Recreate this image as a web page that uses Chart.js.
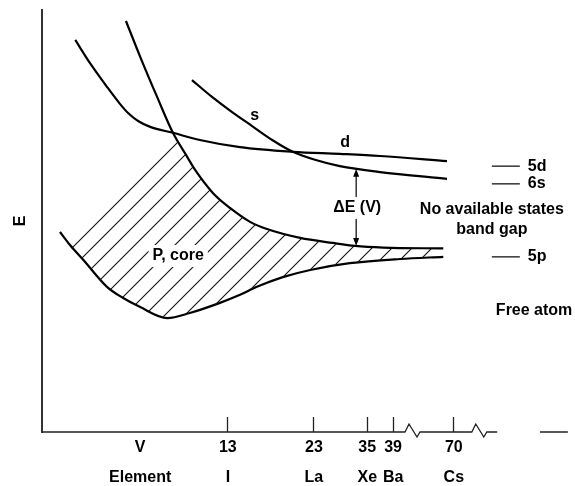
<!DOCTYPE html>
<html>
<head>
<meta charset="utf-8">
<script src="https://cdn.jsdelivr.net/npm/chart.js@4.4.0/dist/chart.umd.min.js"></script>
<style>
  html, body { margin: 0; padding: 0; background: #fff; }
  #chart { display: block; }
</style>
</head>
<body>
<canvas id="chart" width="575" height="486"></canvas>
<script>
// level energies, arbitrary units (x: position along the element axis, E: 0-100)
const dBandX = [6.3, 9.1, 12.3, 14.8, 16.3, 18.2, 20.5, 24.8, 29.9, 37.5, 47.5, 56.4, 64.0, 76.7];
const dBandE = [92.9, 87.4, 81.8, 77.7, 75.6, 73.7, 72.3, 70.9, 69.2, 67.5, 66.4, 65.9, 65.4, 64.2];
const sBandX = [28.4, 32.2, 36.0, 39.8, 43.6, 47.5, 51.7, 56.4, 64.0, 76.7];
const sBandE = [83.4, 79.4, 75.8, 72.5, 69.2, 66.4, 64.5, 63.0, 61.6, 60.0];
const coreTopX = [15.9, 18.6, 21.8, 24.8, 27.5, 29.0, 32.4, 35.6, 39.4, 42.6, 48.9, 55.1, 59.3, 64.6, 76.0];
const coreTopE = [97.4, 88.9, 79.4, 70.9, 65.2, 62.1, 56.6, 53.1, 49.8, 48.1, 46.0, 44.8, 44.1, 43.7, 43.5];
const coreBottomX = [3.4, 5.3, 7.8, 12.3, 15.3, 18.6, 23.7, 28.0, 33.7, 37.5, 40.7, 45.6, 50.8, 58.3, 67.8, 76.0];
const coreBottomE = [47.4, 44.3, 40.8, 34.4, 31.8, 29.6, 27.0, 28.2, 30.6, 32.5, 34.4, 36.7, 38.4, 40.0, 41.0, 41.5];
// left edge of the filled (occupied) region
const occupiedEdgeX = [4.7, 24.8];
const occupiedEdgeE = [46.0, 70.9];

// free atom levels
const atomLevels = ['5d', '6s', '5p'];
const atomLevelE = [63.0, 58.8, 41.5];
const atomMarkX = [85.2, 90.5];

// x axis
const tickX = [18.6, 35.2, 51.5, 61.6, 66.5, 78.0];
const tickZ = ['V', '13', '23', '35', '39', '70'];
const tickElement = ['Element', 'I', 'La', 'Xe', 'Ba', 'Cs'];
const axisBreaks = [68.75, 81.4];
const axisEnd = 86.2;
const axisTail = [94.3, 99.6];

// band gap arrow
const gapX = 59.5;
const gapE = [44.1, 62.4];

const notes = [
  { text: 's', x: 40.3, y: 74.9 },
  { text: 'd', x: 57.4, y: 68.5 },
  { text: 'P, core', x: 25.8, y: 41.7, box: true },
  { text: 'ΔE (V)', x: 59.7, y: 53.1, box: true },
  { text: 'No available states', x: 85.2, y: 52.8 },
  { text: 'band gap', x: 85.2, y: 47.9 },
  { text: 'Free atom', x: 93.2, y: 28.7 },
];

const FONT = '"Liberation Sans", Arial, sans-serif';

const zip = (xs, ys) => xs.map((x, i) => ({ x: x, y: ys[i] }));

function hatchPattern() {
  const c = document.createElement('canvas');
  c.width = 20; c.height = 20;
  const g = c.getContext('2d');
  g.strokeStyle = '#111';
  g.lineWidth = 1.1;
  g.beginPath();
  [-20, 0, 20].forEach(k => {
    g.moveTo(-4, 24 + k);
    g.lineTo(24, -4 + k);
  });
  g.stroke();
  return g.createPattern(c, 'repeat');
}

const occupiedTop = zip(occupiedEdgeX, occupiedEdgeE)
  .concat(zip(coreTopX, coreTopE).filter(p => p.x > occupiedEdgeX[1]));

const curve = (data) => ({
  data: data,
  showLine: true,
  borderColor: '#000',
  borderWidth: 2.2,
  pointRadius: 0,
  cubicInterpolationMode: 'monotone',
  fill: false,
});

const datasets = [
  {
    data: occupiedTop,
    showLine: true,
    borderWidth: 0,
    borderColor: 'rgba(0,0,0,0)',
    backgroundColor: hatchPattern(),
    pointRadius: 0,
    tension: 0,
    fill: 1,
  },
  curve(zip(coreBottomX, coreBottomE)),
  curve(zip(coreTopX, coreTopE)),
  curve(zip(dBandX, dBandE)),
  curve(zip(sBandX, sBandE)),
];
atomLevelE.forEach(e => {
  datasets.push({
    data: atomMarkX.map(x => ({ x: x, y: e })),
    showLine: true,
    borderColor: '#000',
    borderWidth: 1.2,
    pointRadius: 0,
    fill: false,
  });
});

const annotations = {
  id: 'annotations',
  afterDatasetsDraw(chart) {
    const ctx = chart.ctx;
    const xs = chart.scales.x, ys = chart.scales.y;
    const X = v => xs.getPixelForValue(v);
    const Y = v => ys.getPixelForValue(v);
    ctx.save();

    // x axis with breaks
    const y0 = Y(0);
    ctx.strokeStyle = '#222';
    ctx.lineWidth = 1.3;
    ctx.beginPath();
    ctx.moveTo(X(0), y0);
    axisBreaks.forEach(b => {
      const px = X(b);
      ctx.lineTo(px, y0);
      ctx.lineTo(px + 4, y0 - 8);
      ctx.lineTo(px + 12, y0 + 5);
      ctx.lineTo(px + 15, y0);
    });
    ctx.lineTo(X(axisEnd), y0);
    ctx.moveTo(X(axisTail[0]), y0);
    ctx.lineTo(X(axisTail[1]), y0);
    ctx.stroke();

    // band gap double arrow
    const ax = X(gapX), aLow = Y(gapE[0]), aHigh = Y(gapE[1]);
    ctx.strokeStyle = '#000';
    ctx.fillStyle = '#000';
    ctx.lineWidth = 1.2;
    ctx.beginPath();
    ctx.moveTo(ax, aHigh + 6);
    ctx.lineTo(ax, aLow - 6);
    ctx.stroke();
    ctx.beginPath();
    ctx.moveTo(ax, aHigh); ctx.lineTo(ax - 3, aHigh + 8); ctx.lineTo(ax + 3, aHigh + 8);
    ctx.closePath();
    ctx.moveTo(ax, aLow); ctx.lineTo(ax - 3, aLow - 8); ctx.lineTo(ax + 3, aLow - 8);
    ctx.closePath();
    ctx.fill();

    // text notes
    ctx.font = 'bold 16px ' + FONT;
    ctx.textBaseline = 'middle';
    ctx.textAlign = 'center';
    notes.forEach(n => {
      const px = X(n.x), py = Y(n.y);
      if (n.box) {
        const w = ctx.measureText(n.text).width + 8;
        ctx.fillStyle = '#fff';
        ctx.fillRect(px - w / 2, py - 11, w, 22);
      }
      ctx.fillStyle = '#000';
      ctx.fillText(n.text, px, py);
    });
    ctx.textAlign = 'left';
    atomLevels.forEach((name, i) => {
      ctx.fillText(name, X(atomMarkX[1]) + 8, Y(atomLevelE[i]));
    });
    ctx.restore();
  }
};

new Chart(document.getElementById('chart'), {
  type: 'scatter',
  data: { datasets: datasets },
  plugins: [annotations],
  options: {
    responsive: false,
    animation: false,
    devicePixelRatio: 1,
    layout: { padding: { left: 0, right: 5, top: 10, bottom: 0 } },
    plugins: {
      legend: { display: false },
      tooltip: { enabled: false },
    },
    scales: {
      x: {
        type: 'linear',
        min: 0,
        max: 100,
        border: { display: false },
        grid: {
          display: true,
          drawOnChartArea: false,
          drawTicks: true,
          tickLength: -15,
          tickWidth: 1.3,
          tickColor: (c) => (c.index === 0 ? 'rgba(0,0,0,0)' : '#222'),
        },
        afterBuildTicks: (scale) => {
          scale.ticks = tickX.map(v => ({ value: v }));
        },
        afterFit: (scale) => { scale.height = 54; },
        ticks: {
          autoSkip: false,
          maxRotation: 0,
          padding: 16,
          color: '#000',
          font: { family: FONT, size: 16, weight: 'bold', lineHeight: 1.875 },
          callback: (v, i) => [tickZ[i], tickElement[i]],
        },
      },
      y: {
        type: 'linear',
        min: 0,
        max: 100,
        border: { display: true, color: '#333', width: 2 },
        grid: { display: false },
        ticks: { display: false },
        afterFit: (scale) => { scale.width = 42; },
        title: {
          display: true,
          text: 'E',
          color: '#000',
          padding: { top: 11, bottom: 0 },
          font: { family: FONT, size: 16, weight: 'bold' },
        },
      },
    },
  },
});
</script>
</body>
</html>
